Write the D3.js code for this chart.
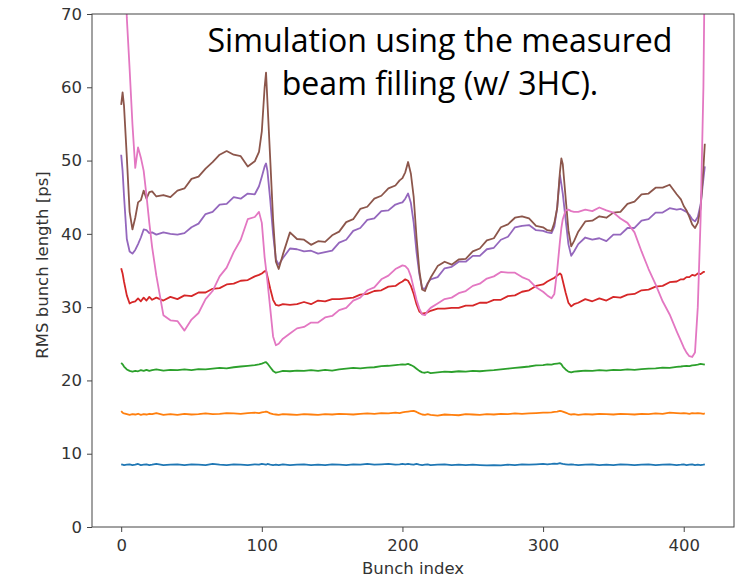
<!DOCTYPE html>
<html>
<head>
<meta charset="utf-8">
<script src="https://cdn.jsdelivr.net/npm/d3@7"></script>
<style>
  body { margin: 0; background: #fff; }
  svg { display: block; }
</style>
</head>
<body>
<div id="chart"></div>
<script>
// ── RMS bunch length along the train (simulation, measured filling, w/ 3HC) ──

// bunch positions (denser around the jumps)
const bunchIndex = [
  0, 1, 2, 4, 6, 8, 10, 12, 14, 16, 18, 20, 22, 25,
  30, 35, 40, 45, 50, 55, 60, 65, 70, 75, 80, 85, 90, 95,
  98, 100, 102, 103, 104, 106, 108, 110, 112, 115, 120,
  125, 130, 135, 140, 145, 150, 155, 160, 165, 170, 175, 180, 185, 190, 195,
  198, 200, 202, 204, 206, 208, 210, 212, 214, 216, 218, 220,
  225, 230, 235, 240, 245, 250, 255, 260, 265, 270, 275, 280, 285, 290, 295, 300,
  303, 306, 308, 310, 312, 313, 314, 316, 318, 320, 322,
  325, 330, 335, 340, 345, 350, 355, 360, 365, 370, 375, 380, 385, 390, 395,
  398, 400, 402, 404, 406, 408, 410, 412, 414, 415,
]

const blueVals = [
  8.55, 8.5, 8.45, 8.5, 8.55, 8.45, 8.5, 8.6, 8.45, 8.5, 8.55, 8.45, 8.5, 8.6,
  8.45, 8.5, 8.55, 8.45, 8.55, 8.5, 8.45, 8.6, 8.5, 8.45, 8.55, 8.5, 8.45, 8.55,
  8.5, 8.6, 8.55, 8.5, 8.6, 8.5, 8.45, 8.5, 8.45, 8.55, 8.45,
  8.5, 8.55, 8.45, 8.5, 8.45, 8.55, 8.5, 8.45, 8.55, 8.5, 8.6, 8.5, 8.55, 8.6, 8.5,
  8.55, 8.6, 8.55, 8.6, 8.55, 8.5, 8.6, 8.5, 8.45, 8.5, 8.55, 8.45,
  8.5, 8.55, 8.45, 8.5, 8.45, 8.5, 8.45, 8.4, 8.45, 8.4, 8.5, 8.45, 8.55, 8.5, 8.55, 8.6,
  8.55, 8.6, 8.65, 8.6, 8.7, 8.65, 8.6, 8.55, 8.5, 8.55, 8.5,
  8.45, 8.5, 8.55, 8.45, 8.5, 8.45, 8.55, 8.5, 8.45, 8.5, 8.55, 8.45, 8.5, 8.55, 8.45,
  8.5, 8.55, 8.45, 8.5, 8.55, 8.45, 8.5, 8.45, 8.5, 8.55,
]

const orangeVals = [
  15.8, 15.6, 15.5, 15.4, 15.3, 15.4, 15.35, 15.45, 15.3, 15.4, 15.35, 15.45, 15.4, 15.55,
  15.3, 15.4, 15.3, 15.45, 15.35, 15.4, 15.5, 15.4, 15.45, 15.55, 15.5, 15.45, 15.55, 15.6,
  15.55, 15.65, 15.7, 15.75, 15.7, 15.5, 15.4, 15.35, 15.3, 15.4, 15.35,
  15.3, 15.4, 15.35, 15.3, 15.4, 15.35, 15.45, 15.4, 15.35, 15.45, 15.5, 15.45, 15.55, 15.5, 15.6,
  15.55, 15.65, 15.7, 15.75, 15.8, 15.85, 15.7, 15.5, 15.35, 15.3, 15.4, 15.3,
  15.2, 15.35, 15.3, 15.25, 15.4, 15.35, 15.3, 15.4, 15.35, 15.45, 15.4, 15.5, 15.45, 15.5, 15.55, 15.6,
  15.6, 15.65, 15.7, 15.75, 15.85, 15.8, 15.75, 15.6, 15.45, 15.35, 15.4,
  15.3, 15.4, 15.35, 15.45, 15.4, 15.35, 15.45, 15.4, 15.35, 15.45, 15.4, 15.5, 15.45, 15.6, 15.55,
  15.5, 15.55, 15.5, 15.45, 15.55, 15.5, 15.55, 15.5, 15.45, 15.5,
]

const greenVals = [
  22.4, 22.2, 21.9, 21.5, 21.3, 21.2, 21.3, 21.25, 21.4, 21.3, 21.45, 21.3, 21.4, 21.5,
  21.35, 21.45, 21.4, 21.5, 21.4, 21.55, 21.5, 21.6, 21.7, 21.65, 21.8, 21.9, 22.0, 22.1,
  22.2, 22.3, 22.45, 22.5, 22.3, 21.8, 21.3, 21.05, 21.15, 21.3, 21.25,
  21.35, 21.3, 21.4, 21.3, 21.45, 21.35, 21.5, 21.6, 21.7, 21.65, 21.75, 21.8, 21.95, 22.0, 22.1,
  22.15, 22.2, 22.15, 22.25, 22.1, 21.9, 21.6, 21.3, 21.1, 21.05, 21.15, 21.0,
  21.1, 21.2, 21.15, 21.25, 21.2, 21.3, 21.25, 21.35, 21.4, 21.5, 21.6, 21.7, 21.8, 21.9, 22.05, 22.1,
  22.2, 22.15, 22.25, 22.3, 22.35, 22.2, 21.9, 21.5, 21.2, 21.1, 21.2,
  21.25, 21.35, 21.3, 21.4, 21.35, 21.45, 21.4, 21.5, 21.45, 21.55, 21.6, 21.65, 21.75, 21.7, 21.85,
  21.9, 21.95, 22.0, 21.95, 22.05, 22.1, 22.15, 22.25, 22.2, 22.15,
]

const redVals = [
  35.3, 34.6, 33.5, 31.6, 30.5, 30.7, 30.8, 31.2, 30.8, 31.3, 30.9, 31.4, 31.0, 31.3,
  30.9, 31.4, 31.1, 31.6, 31.5, 32.0, 32.0, 32.5, 32.6, 33.1, 33.2, 33.6, 33.7, 34.2,
  34.4, 34.6, 34.9, 35.0, 34.2, 32.5, 31.0, 30.3, 30.2, 30.4, 30.3,
  30.4, 30.7, 30.4, 30.9, 30.8, 31.1, 31.1, 31.2, 31.3, 31.7, 31.8, 32.2, 32.3, 32.8, 32.9,
  33.3, 33.5, 33.8, 33.6, 32.9, 31.8, 30.4, 29.4, 29.1, 29.2, 29.3, 29.5,
  29.8, 29.8, 29.9, 29.9, 30.2, 30.2, 30.6, 30.6, 31.0, 31.0, 31.5, 31.6, 32.1, 32.3, 32.9, 33.1,
  33.5, 33.8, 34.0, 34.3, 34.6, 34.4, 33.6, 32.0, 30.6, 30.1, 30.4,
  30.6, 31.1, 30.8, 31.2, 30.9, 31.4, 31.3, 31.7, 31.8, 32.3, 32.4, 32.8, 32.9, 33.4, 33.5,
  33.8, 33.8, 34.1, 34.1, 34.4, 34.3, 34.6, 34.5, 34.8, 34.8,
]

const purpleVals = [
  50.8, 48.6, 45.2, 39.3, 37.6, 37.3, 37.8, 38.6, 39.5, 40.6, 40.5, 40.1, 40.2, 39.9,
  40.2, 40.0, 39.9, 40.1, 40.9, 41.4, 42.7, 43.0, 44.0, 44.1, 45.0, 44.8, 45.5, 45.4,
  46.5, 47.8, 49.2, 49.6, 48.6, 44.6, 40.0, 36.5, 35.8, 36.7, 38.0,
  37.9, 37.6, 37.7, 37.3, 37.5, 37.7, 38.8, 39.2, 40.4, 40.8, 41.9, 42.1, 43.1, 43.2, 44.0,
  44.2, 44.3, 44.8, 45.5, 44.2, 41.5, 37.5, 34.5, 32.6, 32.5, 33.3, 33.8,
  34.1, 35.3, 35.5, 36.2, 36.2, 37.0, 37.0, 37.9, 38.1, 39.2, 39.6, 40.9, 41.1, 41.2, 40.5, 40.4,
  40.2, 40.1, 41.0, 43.5, 48.0, 46.8, 45.5, 42.0, 38.6, 37.0, 37.6,
  38.6, 39.5, 39.2, 39.4, 39.0, 39.9, 39.9, 40.8, 40.8, 41.8, 42.0, 42.9, 42.9, 43.5, 43.3,
  43.4, 43.2, 43.0, 42.6, 42.0, 41.7, 42.3, 44.0, 47.5, 49.2,
]

const brownVals = [
  57.6, 59.3, 57.5, 50.5, 43.0, 40.6, 42.2, 44.3, 44.6, 45.9, 44.8, 45.7, 45.8, 45.1,
  45.3, 45.0, 45.9, 46.2, 47.5, 47.8, 48.9, 49.8, 50.8, 51.3, 50.8, 50.6, 49.2, 49.9,
  51.2, 54.0, 60.0, 62.0, 58.0, 50.1, 42.0, 36.2, 35.2, 37.2, 40.2,
  39.3, 39.2, 38.5, 39.0, 38.9, 39.8, 40.3, 41.6, 42.0, 43.4, 43.7, 44.8, 45.2, 46.2, 46.6,
  47.3, 47.6, 48.4, 49.8, 48.2, 45.0, 39.5, 35.0, 32.4, 32.2, 33.2, 34.0,
  35.6, 36.2, 35.8, 36.5, 36.6, 37.6, 38.0, 39.1, 39.4, 40.9, 41.3, 42.2, 42.4, 42.1, 41.1, 40.9,
  40.5, 40.4, 41.5, 43.5, 48.5, 50.3, 49.5, 45.0, 40.5, 38.3, 39.0,
  40.3, 41.7, 41.8, 42.4, 42.2, 42.9, 43.0, 44.1, 44.4, 45.4, 45.5, 46.3, 46.3, 46.7, 45.4,
  44.7, 43.8, 43.2, 42.3, 41.3, 40.8, 41.5, 43.5, 49.0, 52.3,
]

const pinkVals = [
  105, 95, 85, 69.5, 62.5, 55.0, 49.0, 51.8, 50.4, 48.6, 45.2, 41.5, 38.2, 34.3,
  28.9, 28.2, 28.1, 26.8, 28.3, 29.2, 31.1, 32.2, 34.2, 35.4, 37.5, 39.2, 42.0, 42.3,
  43.0, 41.5, 36.8, 35.2, 33.5, 29.8, 26.0, 24.8, 25.0, 25.7, 26.4,
  27.1, 27.3, 27.9, 27.9, 28.6, 28.8, 29.6, 29.9, 30.9, 31.3, 32.3, 32.7, 33.8, 34.3, 35.2,
  35.5, 35.7, 35.6, 35.2, 34.2, 32.6, 31.0, 29.8, 29.0, 28.9, 29.5, 29.9,
  30.5, 31.1, 31.3, 31.9, 32.2, 32.9, 33.2, 33.9, 34.2, 34.8, 34.7, 34.7, 34.1, 33.7, 32.7, 32.1,
  31.6, 31.2, 31.8, 35.0, 39.0, 40.8, 42.0, 43.2, 43.3, 43.1, 43.0,
  43.0, 43.3, 43.1, 43.6, 43.2, 42.9, 42.1, 41.5, 40.2, 37.6, 35.2, 33.1, 30.8, 29.0, 26.7,
  25.4, 24.5, 23.8, 23.3, 23.2, 23.8, 30.0, 42.0, 60.0, 78.0,
]

const seriesColors = ['#1f77b4', '#ff7f0e', '#2ca02c', '#d62728', '#9467bd', '#8c564b', '#e377c2']
const xTicks = [0, 100, 200, 300, 400]
const yTicks = [0, 10, 20, 30, 40, 50, 60, 70]
const noteLines = ['Simulation using the measured', 'beam filling (w/ 3HC).']

const allSeries = [blueVals, orangeVals, greenVals, redVals, purpleVals, brownVals, pinkVals]

const width = 738, height = 577
const plot = { left: 92, right: 734, top: 14, bottom: 527 }
const tickFont = '"DejaVu Sans", sans-serif'
const labelSize = '16.5px'

const svg = d3.select('#chart')
  .append('svg')
  .attr('width', width)
  .attr('height', height)
  .style('background', '#fff')

// matplotlib default margins: 5% each side of 0..415
const x = d3.scaleLinear().domain([-20.75, 435.75]).range([plot.left, plot.right])
const y = d3.scaleLinear().domain([0, 70]).range([plot.bottom, plot.top])

svg.append('defs').append('clipPath')
  .attr('id', 'plotClip')
  .append('rect')
  .attr('x', plot.left)
  .attr('y', plot.top)
  .attr('width', plot.right - plot.left)
  .attr('height', plot.bottom - plot.top)

// axes
const xAxis = svg.append('g')
  .attr('transform', `translate(0,${plot.bottom})`)
  .call(d3.axisBottom(x).tickValues(xTicks).tickSize(5).tickPadding(7).tickFormat(d3.format('d')))
const yAxis = svg.append('g')
  .attr('transform', `translate(${plot.left},0)`)
  .call(d3.axisLeft(y).tickValues(yTicks).tickSize(5).tickPadding(5).tickFormat(d3.format('d')))

;[xAxis, yAxis].forEach(ax => {
  ax.select('.domain').remove()
  ax.selectAll('line').attr('stroke', '#444').attr('stroke-width', 1)
  ax.selectAll('text')
    .attr('fill', '#333')
    .style('font-family', tickFont)
    .style('font-size', labelSize)
})

// lines
const line = d3.line()
  .x((d, i) => x(bunchIndex[i]))
  .y(d => y(d))

svg.append('g')
  .attr('clip-path', 'url(#plotClip)')
  .selectAll('path')
  .data(allSeries)
  .join('path')
  .attr('d', line)
  .attr('fill', 'none')
  .attr('stroke', (d, i) => seriesColors[i])
  .attr('stroke-width', 1.8)
  .attr('stroke-linejoin', 'round')

// frame
svg.append('rect')
  .attr('x', plot.left)
  .attr('y', plot.top)
  .attr('width', plot.right - plot.left)
  .attr('height', plot.bottom - plot.top)
  .attr('fill', 'none')
  .attr('stroke', '#444')
  .attr('stroke-width', 1)

// axis labels
svg.append('text')
  .attr('x', (plot.left + plot.right) / 2)
  .attr('y', 574)
  .attr('text-anchor', 'middle')
  .attr('fill', '#333')
  .style('font-family', tickFont)
  .style('font-size', labelSize)
  .text('Bunch index')

svg.append('text')
  .attr('transform', 'translate(48,265) rotate(-90)')
  .attr('text-anchor', 'middle')
  .attr('fill', '#333')
  .style('font-family', tickFont)
  .style('font-size', labelSize)
  .text('RMS bunch length [ps]')

// annotation, sized so the first line spans the same width as in the slide
const note = svg.append('g')
  .selectAll('text')
  .data(noteLines)
  .join('text')
  .attr('x', 440)
  .attr('y', (d, i) => 52 + i * 43)
  .attr('text-anchor', 'middle')
  .attr('fill', '#000')
  .style('font-family', '"Open Sans", sans-serif')
  .style('font-size', '30px')
  .text(d => d)

const firstLen = note.node().getComputedTextLength()
if (firstLen > 0) note.style('font-size', (30 * 466 / firstLen).toFixed(1) + 'px')
</script>
</body>
</html>
